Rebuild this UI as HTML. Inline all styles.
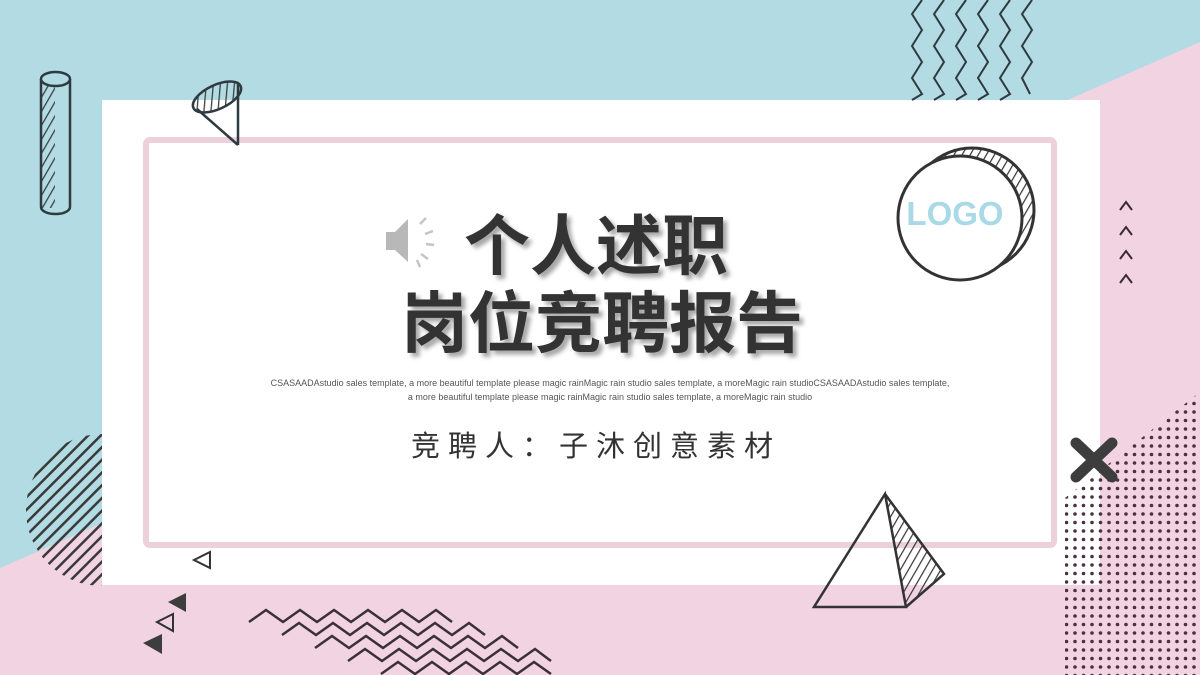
<!DOCTYPE html>
<html><head><meta charset="utf-8"><style>
html,body{margin:0;padding:0;}
body{width:1200px;height:675px;overflow:hidden;position:relative;font-family:"Liberation Sans","Noto Sans CJK SC",sans-serif;}
svg{position:absolute;left:0;top:0;}
.t{position:absolute;left:0;width:1200px;text-align:center;color:#333;}
</style></head><body>
<svg width="1200" height="675">
<defs>
<pattern id="hatch" width="9" height="9" patternUnits="userSpaceOnUse" patternTransform="rotate(45)"><line x1="0" y1="0" x2="0" y2="9" stroke="#3a3a3a" stroke-width="5"/></pattern>
<pattern id="hatch2" width="7" height="7" patternUnits="userSpaceOnUse" patternTransform="rotate(30)"><line x1="0" y1="0" x2="0" y2="7" stroke="#3a3a3a" stroke-width="2.5"/></pattern>
<pattern id="dots" width="8.5" height="8.5" patternUnits="userSpaceOnUse"><circle cx="4" cy="4" r="1.8" fill="#4a3040"/></pattern>
<clipPath id="leftclip"><rect x="0" y="0" width="102" height="675"/></clipPath>
</defs>
<rect width="1200" height="675" fill="#f2d3e2"/>
<polygon points="0,0 1200,0 1200,42 0,568" fill="#b2dbe3"/>
<circle cx="102" cy="510" r="76" fill="url(#hatch)" clip-path="url(#leftclip)"/>
<rect x="102" y="100" width="998" height="485" fill="#ffffff"/>
<polygon points="1065,498 1200,392 1200,675 1065,675" fill="url(#dots)"/>
<rect x="146" y="140" width="908" height="405" rx="4" fill="none" stroke="#ecd0da" stroke-width="6"/>
<g fill="none" stroke="#2f3a40" stroke-width="2">
<path d="M922,0 l-10,14 10,16 -10,16 10,16 -10,16 10,16 -10,6"/>
<path d="M944,0 l-10,14 10,16 -10,16 10,16 -10,16 10,16 -10,6"/>
<path d="M966,0 l-10,14 10,16 -10,16 10,16 -10,16 10,16 -10,6"/>
<path d="M988,0 l-10,14 10,16 -10,16 10,16 -10,16 10,16 -10,6"/>
<path d="M1010,0 l-10,14 10,16 -10,16 10,16 -10,16 10,16 -10,6"/>
<path d="M1032,0 l-10,14 10,16 -10,16 10,16 -10,16 8,16 -8,-16"/>
</g>
<g stroke="#2f3a40" stroke-width="2.5" fill="none">
<rect x="42" y="78" width="13" height="130" fill="url(#hatch2)" stroke="none"/>
<path d="M41,79 L41,207 M70,79 L70,207"/>
<ellipse cx="55.5" cy="79" rx="14.5" ry="7" fill="#b2dbe3"/>
<path d="M41,207 A14.5,7 0 0 0 70,207"/>
</g>
<g stroke="#2f3a40" stroke-width="2.5" fill="none">
<ellipse cx="217" cy="97" rx="26" ry="12" transform="rotate(-25 217 97)" fill="url(#hatch2)"/>
<path d="M197,109 L238,145 M238,84 L238,145"/>
</g>
<g>
<circle cx="972" cy="210" r="62" fill="url(#hatch2)" stroke="#333" stroke-width="3"/>
<circle cx="960" cy="218" r="62" fill="#fff" stroke="#333" stroke-width="3"/>
<text x="955" y="225" text-anchor="middle" font-family="Liberation Sans" font-weight="bold" font-size="33" fill="#a9d8e6">LOGO</text>
</g>
<g fill="none" stroke="#3a2a35" stroke-width="2">
<path d="M1120,210 l6,-8 6,8"/><path d="M1120,235 l6,-8 6,8"/><path d="M1120,259 l6,-8 6,8"/><path d="M1120,283 l6,-8 6,8"/>
</g>
<g stroke="#3d3d3d" stroke-width="11" stroke-linecap="round">
<line x1="1076" y1="443" x2="1112" y2="477"/><line x1="1112" y1="443" x2="1076" y2="477"/>
</g>
<g stroke="#333" stroke-width="2.5" fill="none">
<polygon points="885,494 944,574 906,608" fill="url(#hatch2)" stroke="none"/>
<path d="M885,494 L814,607 L906,607 Z M885,494 L944,574 L906,607"/>
</g>
<g>
<polygon points="194,560 210,552 210,568" fill="none" stroke="#333" stroke-width="2"/>
<polygon points="168,602 186,593 186,612" fill="#3d3d3d"/>
<polygon points="157,622 173,614 173,631" fill="none" stroke="#333" stroke-width="2"/>
<polygon points="143,643 162,634 162,654" fill="#3d3d3d"/>
</g>
<g fill="none" stroke="#3a3038" stroke-width="2.5">
<path d="M249,622 l17,-12 17,12 17,-12 17,12 17,-12 17,12 17,-12 17,12 17,-12 17,12 17,-12 16,12"/>
<path d="M282,635 l17,-12 17,12 17,-12 17,12 17,-12 17,12 17,-12 17,12 17,-12 17,12 17,-12 16,12"/>
<path d="M315,648 l17,-12 17,12 17,-12 17,12 17,-12 17,12 17,-12 17,12 17,-12 17,12 17,-12 16,12"/>
<path d="M348,661 l17,-12 17,12 17,-12 17,12 17,-12 17,12 17,-12 17,12 17,-12 17,12 17,-12 16,12"/>
<path d="M381,674 l17,-12 17,12 17,-12 17,12 17,-12 17,12 17,-12 17,12 17,-12 17,12"/>
</g>
<g>
<polygon points="386,232 395,232 408,219 408,262 395,250 386,250" fill="#b8b8b8"/>
<path d="M420,224 l6,-6 M425,234 l8,-3 M426,244 l8,1 M421,254 l7,5 M417,260 l3,7" stroke="#c4c4c4" stroke-width="2.5"/>
</g>
</svg>
<div class="t" style="top:212px;left:-4px;font-size:66px;font-weight:bold;line-height:68px;text-shadow:4px 4px 4px rgba(0,0,0,0.35);">个人述职</div>
<div class="t" style="top:290px;left:2px;font-size:67px;font-weight:bold;line-height:70px;text-shadow:4px 4px 4px rgba(0,0,0,0.35);">岗位竞聘报告</div>
<div class="t" style="top:376px;left:270px;width:680px;font-size:9px;line-height:14px;color:#555;">CSASAADAstudio sales template, a more beautiful template please magic rainMagic rain studio sales template, a moreMagic rain studioCSASAADAstudio sales template, a more beautiful template please magic rainMagic rain studio sales template, a moreMagic rain studio</div>
<div class="t" style="top:430px;left:-4px;font-size:29px;line-height:34px;letter-spacing:8px;color:#333;">竞聘人：子沐创意素材</div>
</body></html>
